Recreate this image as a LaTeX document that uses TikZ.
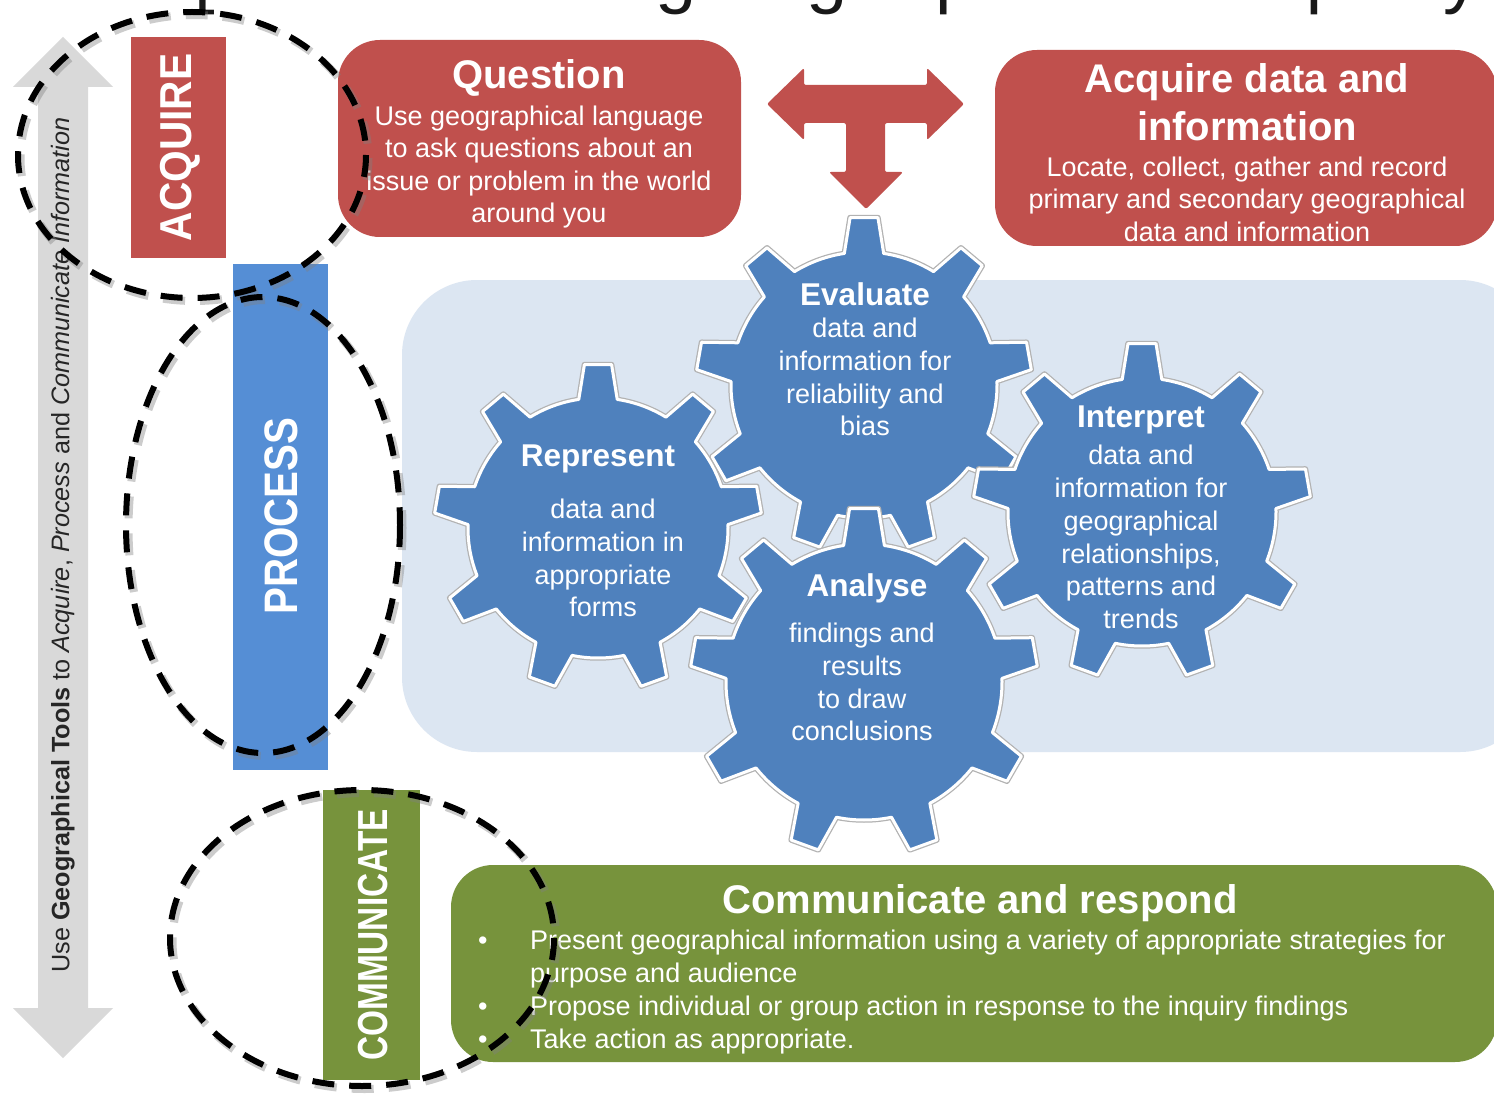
\documentclass[tikz,border=0pt]{standalone}
\usepackage{fontspec}
\setmainfont{Liberation Sans}
\usepackage{graphicx}
\usetikzlibrary{calc}

\definecolor{boxred}{HTML}{C0504D}
\definecolor{procblue}{HTML}{558ED5}
\definecolor{gearblue}{HTML}{4F81BD}
\definecolor{commgreen}{HTML}{77933C}
\definecolor{panelblue}{HTML}{DCE6F2}
\definecolor{arrowgray}{HTML}{D9D9D9}

\newcommand{\fs}[2]{\fontsize{#1}{#2}\selectfont}
% nine-tooth gear outline around the origin: #1 tip radius, #2 root radius
\newcommand{\gearpath}[2]{(81.5:#2pt) \foreach \k in {0,...,8}{ -- ({90+40*\k-4.75}:#1pt) -- ({90+40*\k+4.75}:#1pt) -- ({90+40*\k+8.5}:#2pt) arc[start angle={90+40*\k+8.5}, end angle={90+40*\k+31.5}, radius=#2pt]} -- cycle}

\tikzset{
  boxtitle/.style={text=white, font=\bfseries\fs{40}{48}, align=center, inner sep=0},
  boxbody/.style={text=white, font=\fs{27}{32.6}, align=center, inner sep=0},
  geartitle/.style={text=white, font=\bfseries\fs{31.5}{38}, inner sep=0},
  gearbody/.style={text=white, font=\fs{27}{32.7}, align=center, inner sep=0},
  barlabel/.style={text=white, rotate=90, inner sep=0},
  rbox/.style={rounded corners=42},
  gearedge/.style={draw=black!30, line width=5.5pt, line join=round},
  gearface/.style={fill=gearblue, draw=white, line width=3pt, line join=round},
  dashring/.style={draw=black, line width=6pt, dash pattern=on 22pt off 15pt},
  dashshadow/.style={draw=black!50, opacity=0.4, line width=8pt, dash pattern=on 22pt off 15pt},
}

\begin{document}
\begin{tikzpicture}[x=1pt,y=-1pt]
\useasboundingbox (0,0) rectangle (1494,1094);
\fill[white] (0,0) rectangle (1494,1094);
\clip (0,0) rectangle (1494,1094);

% heading line cut by the top edge: only descenders show
\begin{scope}[every node/.style={anchor=base, inner sep=0, font=\fs{74}{80}, text=black!90}]
  \node (h1) at (205,0) {[};
  \node (h2) at (676,0) {g};
  \node (h3) at (827,0) {g};
  \node (h4) at (956,0) {p};
  \node (h5) at (1302,0) {q};
  \node (h6) at (1462,0) {y};
\end{scope}

% light panel behind the gears
\fill[panelblue, rounded corners=75] (402,280) rectangle (1535,752);

% three-way arrow
\fill[boxred, rounded corners=2] (767,104) -- (804,68) -- (804,85) -- (927,85) -- (927,68) -- (964,104)
  -- (927,140) -- (927,123) -- (885,123) -- (885,172) -- (903,172) -- (866,209) -- (829,172)
  -- (846,172) -- (846,123) -- (804,123) -- (804,140) -- cycle;

% Question box
\fill[boxred, rbox] (338,40) rectangle (741,237);
\node[boxtitle] (qtitle) at (539,78) {Question};
\node[boxbody] (qbody) at (539,167) {Use geographical language\\to ask questions about an\\issue or problem in the world\\around you};

% Acquire box
\fill[boxred, rbox] (995,50) rectangle (1497,246);
\node[boxtitle] (atitle) at (1247,102) {Acquire data and\\information};
\node[boxbody] (abody) at (1247,199) {Locate, collect, gather and record\\primary and secondary geographical\\data and information};

% gears
\begin{scope}[shift={(864,385)}]
  \path[gearedge] \gearpath{168}{133};
  \path[gearface] \gearpath{168}{133};
\end{scope}
\begin{scope}[shift={(598,528)}]
  \path[gearedge] \gearpath{164}{130};
  \path[gearface] \gearpath{164}{130};
\end{scope}
\begin{scope}[shift={(1142,512)}]
  \path[gearedge] \gearpath{169}{134};
  \path[gearface] \gearpath{169}{134};
\end{scope}
\begin{scope}[shift={(864,682)}]
  \path[gearedge] \gearpath{174}{138};
  \path[gearface] \gearpath{174}{138};
\end{scope}

\node[geartitle] (evt) at (865,294) {Evaluate};
\node[gearbody] (evb) at (865,377) {data and\\information for\\reliability and\\bias};
\node[geartitle] (rpt) at (598,458.5) {Represent};
\node[gearbody] (rpb) at (603,558) {data and\\information in\\appropriate\\forms};
\node[geartitle] (ipt) at (1141,419.5) {Interpret};
\node[gearbody] (ipb) at (1141,537) {data and\\information for\\geographical\\relationships,\\patterns and\\trends};
\node[geartitle] (ant) at (867,588.5) {Analyse};
\node[gearbody] (anb) at (862,682) {findings and\\results\\to draw\\conclusions};

% stage bars
\fill[boxred] (131,37) rectangle (226,258);
\node[barlabel, font=\bfseries\fs{44.7}{48}] (acqlabel) at (180,147.5) {\scalebox{0.91}[1]{ACQUIRE}};
\fill[procblue] (233,264) rectangle (328,770);
\node[barlabel, font=\bfseries\fs{47}{50}] (proclabel) at (281,516) {\scalebox{0.857}[1]{PROCESS}};
\fill[commgreen] (323,790) rectangle (420,1080);
\node[barlabel, font=\bfseries\fs{42}{46}] (commlabel) at (373,935) {\scalebox{0.795}[1]{COMMUNICATE}};

% two-headed tools arrow
\fill[arrowgray] (63,37) -- (113,87) -- (88,87) -- (88,1008) -- (113,1008) -- (63,1058)
  -- (13,1008) -- (38,1008) -- (38,87) -- (13,87) -- cycle;
\node[rotate=90, font=\fs{25.2}{28}, text=black!85, inner sep=0] (tools) at (63,545)
  {Use \textbf{Geographical Tools} to \textit{Acquire}, \textit{Process} and \textit{Communicate Information}};

% Communicate and respond box
\fill[commgreen, rbox] (451,865) rectangle (1497,1062);
\node[boxtitle] (ctitle) at (980,903) {Communicate and respond};
\node[anchor=west, align=left, text=white, font=\fs{27}{33}, inner sep=0] (clist) at (478,992.5)
  {\makebox[52pt][l]{\textbullet}Present geographical information using a variety of appropriate strategies for\\
   \hspace*{52pt}purpose and audience\\
   \makebox[52pt][l]{\textbullet}Propose individual or group action in response to the inquiry findings\\
   \makebox[52pt][l]{\textbullet}Take action as appropriate.};

% dashed rings with soft shadow
\foreach \cx/\cy/\rx/\ry in {192/155/174/143, 263/525/137/228, 362/938/192/148}{
  \draw[dashshadow] (\cx+2.5,\cy+3) ellipse [x radius=\rx, y radius=\ry];
  \draw[dashring] (\cx,\cy) ellipse [x radius=\rx, y radius=\ry];
}
\end{tikzpicture}
\end{document}
